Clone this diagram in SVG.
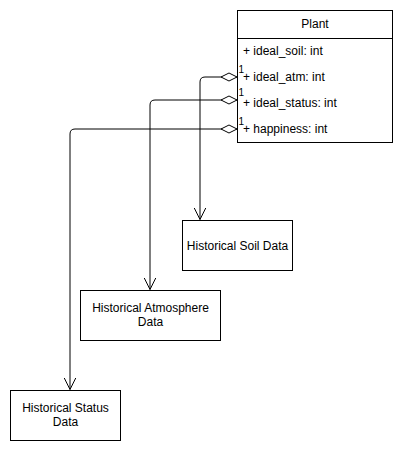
<svg xmlns="http://www.w3.org/2000/svg" width="403" height="451" viewBox="0 0 403 451">
<style>
.box{fill:#fff;stroke:#000;stroke-width:1}
.t{font-family:"Liberation Sans",Arial,sans-serif;font-size:12px;fill:#000}
.c{text-anchor:middle}
.m{font-family:"Liberation Sans",Arial,sans-serif;font-size:10px;fill:#000}
.edge{fill:none;stroke:#000;stroke-width:1}
</style>
<defs>
<marker id="open" markerWidth="14" markerHeight="14" refX="12" refY="7" orient="auto" markerUnits="userSpaceOnUse">
<path d="M0,1 L12,7 L0,13" fill="none" stroke="#000" stroke-width="1"/>
</marker>
<marker id="diamond" markerWidth="18" markerHeight="10" refX="1" refY="5" orient="auto" markerUnits="userSpaceOnUse">
<path d="M1,5 L9,1 L17,5 L9,9 Z" fill="#fff" stroke="#000" stroke-width="1"/>
</marker>
</defs>
<rect width="403" height="451" fill="#fff"/>
<g id="connectors">
<path class="edge" d="M237,77 L205,77 Q200,77 200,82 L200,219.5" marker-start="url(#diamond)" marker-end="url(#open)"/>
<path class="edge" d="M237,100 L155,100 Q150,100 150,105 L150,289.5" marker-start="url(#diamond)" marker-end="url(#open)"/>
<path class="edge" d="M237,129 L75,129 Q70,129 70,134 L70,389.5" marker-start="url(#diamond)" marker-end="url(#open)"/>
</g>
<g id="plant">
<rect class="box" x="237.5" y="10.5" width="155" height="132"/>
<line x1="237.5" y1="38.5" x2="392.5" y2="38.5" stroke="#000"/>
<text class="t c" x="315" y="28">Plant</text>
<text class="t" x="243" y="55">+ ideal_soil: int</text>
<text class="t" x="243" y="81">+ ideal_atm: int</text>
<text class="t" x="243" y="107">+ ideal_status: int</text>
<text class="t" x="243" y="133">+ happiness: int</text>
</g>
<g id="edge-labels">
<text class="m" x="238.5" y="73">1</text>
<text class="m" x="238.5" y="96">1</text>
<text class="m" x="238.5" y="125">1</text>
</g>
<g id="soil">
<rect class="box" x="182.5" y="220.5" width="110" height="50"/>
<text class="t c" x="237.5" y="249.5">Historical Soil Data</text>
</g>
<g id="atmosphere">
<rect class="box" x="80.5" y="290.5" width="140" height="50"/>
<text class="t c" x="150.5" y="311.5">Historical Atmosphere</text>
<text class="t c" x="150.5" y="326">Data</text>
</g>
<g id="status">
<rect class="box" x="10.5" y="390.5" width="110" height="50"/>
<text class="t c" x="65.5" y="411.5">Historical Status</text>
<text class="t c" x="65.5" y="426">Data</text>
</g>
</svg>
